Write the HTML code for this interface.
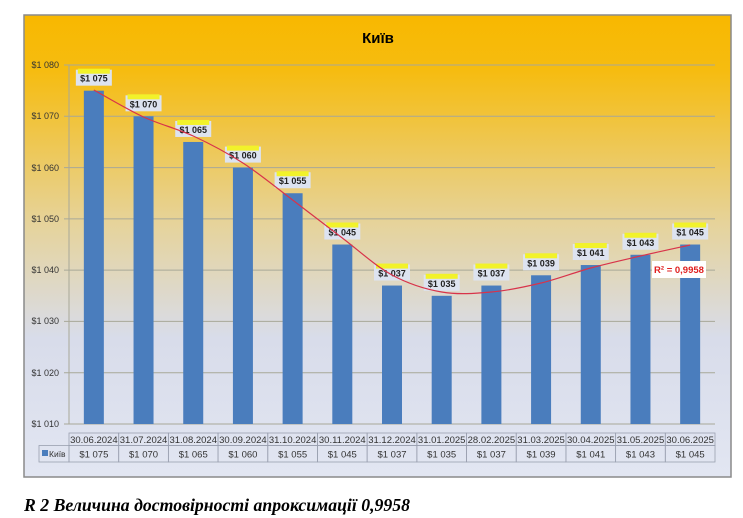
<!DOCTYPE html>
<html><head><meta charset="utf-8"><style>
body{margin:0;background:#fff;width:743px;height:518px;overflow:hidden}
svg{display:block}
</style></head><body>
<svg width="743" height="518" xmlns="http://www.w3.org/2000/svg" font-family="Liberation Sans, DejaVu Sans, sans-serif">
<defs>
<linearGradient id="bg" x1="0" y1="0" x2="0" y2="1">
<stop offset="0" stop-color="#f8b800"/>
<stop offset="0.12" stop-color="#f6bc10"/>
<stop offset="0.45" stop-color="#e6d39a"/>
<stop offset="0.7" stop-color="#d8dcea"/>
<stop offset="1" stop-color="#e2e6f2"/>
</linearGradient>
</defs>
<rect x="24" y="15" width="707" height="462" fill="url(#bg)" stroke="#8a8a8a" stroke-width="1.5"/>
<text x="378" y="43" font-size="15" font-weight="bold" text-anchor="middle" fill="#000">Київ</text>
<g stroke="#a8a898" stroke-width="1">
<line x1="64" y1="65" x2="715" y2="65"/>
<line x1="64" y1="116.3" x2="715" y2="116.3"/>
<line x1="64" y1="167.6" x2="715" y2="167.6"/>
<line x1="64" y1="218.9" x2="715" y2="218.9"/>
<line x1="64" y1="270.1" x2="715" y2="270.1"/>
<line x1="64" y1="321.4" x2="715" y2="321.4"/>
<line x1="64" y1="372.7" x2="715" y2="372.7"/>
<line x1="64" y1="424" x2="715" y2="424"/>
<line x1="69" y1="65" x2="69" y2="424"/>
</g>
<g font-size="9" fill="#333" text-anchor="end">
<text x="59" y="68">$1 080</text>
<text x="59" y="119">$1 070</text>
<text x="59" y="171">$1 060</text>
<text x="59" y="222">$1 050</text>
<text x="59" y="273">$1 040</text>
<text x="59" y="324">$1 030</text>
<text x="59" y="376">$1 020</text>
<text x="59" y="427">$1 010</text>
</g>
<g fill="#4a7dbd" id="bars"></g>
<g id="labels"></g>
<path id="trend" fill="none" stroke="#d8334a" stroke-width="1.2"/>
<rect x="652" y="261" width="54" height="17" fill="#fff"/>
<text x="679" y="273" font-size="9.5" font-weight="bold" fill="#e02020" text-anchor="middle">R² = 0,9958</text>
<g id="table" font-size="9.5" fill="#333"></g>
<text x="24" y="511" font-family="Liberation Serif, serif" font-size="17.5" font-weight="bold" font-style="italic" fill="#000" textLength="386" lengthAdjust="spacingAndGlyphs">R 2 Величина достовірності апроксимації 0,9958</text>
</svg>
<script>
var vals=[1075,1070,1065,1060,1055,1045,1037,1035,1037,1039,1041,1043,1045];
var dates=["30.06.2024","31.07.2024","31.08.2024","30.09.2024","31.10.2024","30.11.2024","31.12.2024","31.01.2025","28.02.2025","31.03.2025","30.04.2025","31.05.2025","30.06.2025"];
var NS="http://www.w3.org/2000/svg";
function el(t,a,p,txt){var e=document.createElementNS(NS,t);for(var k in a)e.setAttribute(k,a[k]);if(txt)e.textContent=txt;p.appendChild(e);return e;}
var bars=document.getElementById('bars'),labels=document.getElementById('labels'),tbl=document.getElementById('table');
var cw=(715-69)/13;
function Y(v){return 424-(v-1010)*5.128;}
for(var i=0;i<13;i++){
 var cx=69+cw*(i+0.5),y=Y(vals[i]);
 el('rect',{x:cx-10,y:y,width:20,height:424-y},bars);
 var ly=y-21;
 el('rect',{x:cx-18,y:ly,width:36,height:16,fill:'#dde3f0'},labels);
 el('rect',{x:cx-16,y:ly-1,width:32,height:5,fill:'#f2f22a'},labels);
 el('text',{x:cx,y:ly+12,'font-size':9,'font-weight':'bold','text-anchor':'middle',fill:'#222'},labels,'$1 '+String(vals[i]).slice(1));
 var x0=69+cw*i;
 el('rect',{x:x0,y:433,width:cw,height:12.5,fill:'none',stroke:'#9aa0b0','stroke-width':0.8},tbl);
 el('rect',{x:x0,y:445.5,width:cw,height:16.5,fill:'none',stroke:'#9aa0b0','stroke-width':0.8},tbl);
 el('text',{x:x0+cw/2,y:443,'text-anchor':'middle'},tbl,dates[i]);
 el('text',{x:x0+cw/2,y:457.5,'text-anchor':'middle'},tbl,'$1 '+String(vals[i]).slice(1));
}
el('rect',{x:39,y:445.5,width:30,height:16.5,fill:'none',stroke:'#9aa0b0','stroke-width':0.8},tbl);
el('rect',{x:42,y:450,width:6,height:6,fill:'#4a7dbd'},tbl);
el('text',{x:49,y:457,'font-size':8.5},tbl,'Київ');
var ty=[90,117,136,163,200,238,275,292,292,283,268,256,245];
var pts=ty.map(function(y,i){return [69+cw*(i+0.5),y];});
var d='M'+pts[0][0]+','+pts[0][1];
for(var i=0;i<pts.length-1;i++){
 var p0=pts[Math.max(0,i-1)],p1=pts[i],p2=pts[i+1],p3=pts[Math.min(pts.length-1,i+2)];
 var c1=[p1[0]+(p2[0]-p0[0])/6,p1[1]+(p2[1]-p0[1])/6],c2=[p2[0]-(p3[0]-p1[0])/6,p2[1]-(p3[1]-p1[1])/6];
 d+=' C'+c1+' '+c2+' '+p2;
}
document.getElementById('trend').setAttribute('d',d);
</script>
</body></html>
